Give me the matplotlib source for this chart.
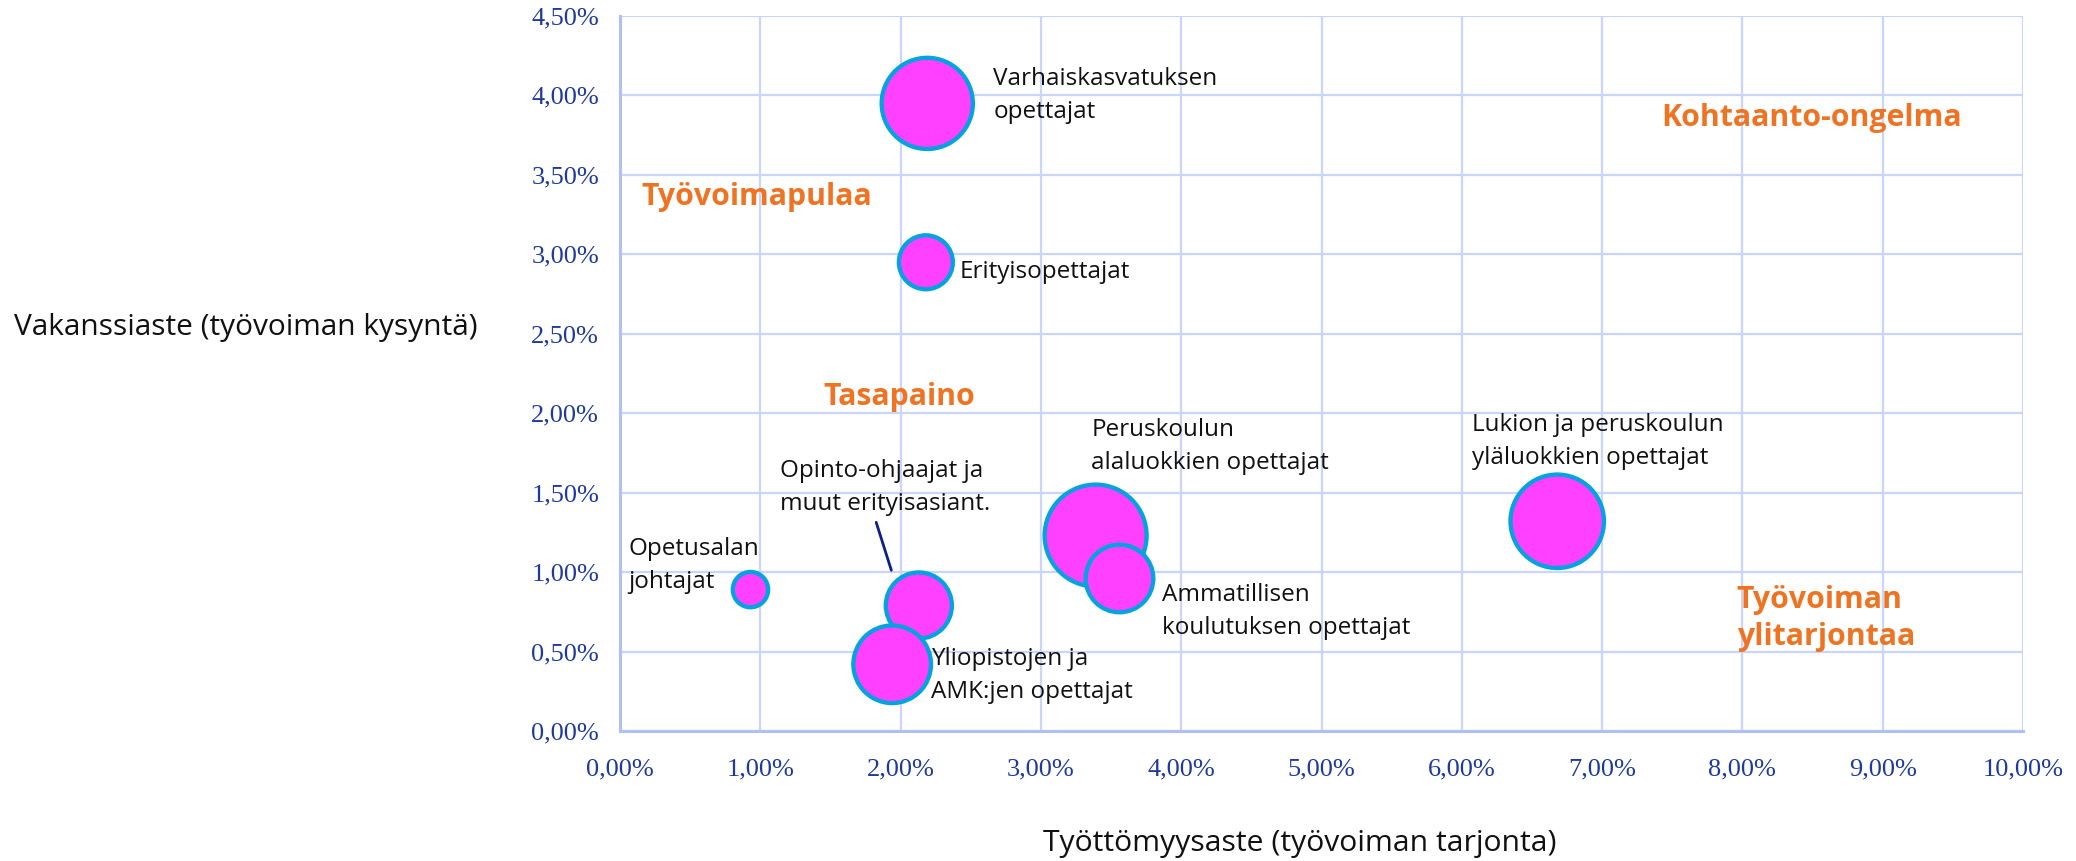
import numpy as np
import matplotlib
matplotlib.use('Agg')
import matplotlib.pyplot as plt
from matplotlib.ticker import FuncFormatter, MultipleLocator

# Ammattiryhmät: työttömyysaste (%), vakanssiaste (%), kuplan koko (suhteellinen)
ammatit = ['Varhaiskasvatuksen\nopettajat', 'Erityisopettajat', 'Opetusalan\njohtajat',
           'Opinto-ohjaajat ja\nmuut erityisasiant.', 'Yliopistojen ja\nAMK:jen opettajat',
           'Peruskoulun\nalaluokkien opettajat', 'Ammatillisen\nkoulutuksen opettajat',
           'Lukion ja peruskoulun\nyläluokkien opettajat']
tyottomyys = [2.19, 2.18, 0.93, 2.13, 1.94, 3.39, 3.56, 6.68]
vakanssi = [3.95, 2.95, 0.89, 0.79, 0.42, 1.23, 0.96, 1.32]
koko = [80, 28, 12, 42, 58, 100, 44, 84]

# nelikenttien otsikot
alueet = ['Työvoimapulaa', 'Tasapaino', 'Kohtaanto-ongelma', 'Työvoiman\nylitarjontaa']

W, H = 2076, 861
fig = plt.figure(figsize=(W / 100, H / 100), dpi=100)
ax = fig.add_axes([620 / W, 1 - 731 / H, (2023 - 620) / W, (731 - 16) / H])

grid_c = '#C9D5FB'
ax.set_xlim(0, 10)
ax.set_ylim(0, 4.5)
ax.xaxis.set_major_locator(MultipleLocator(1))
ax.yaxis.set_major_locator(MultipleLocator(0.5))
ax.grid(True, color=grid_c, lw=1.6, zorder=0)
ax.set_axisbelow(True)
for s in ['top', 'right']:
    ax.spines[s].set_visible(False)
for s in ['left', 'bottom']:
    ax.spines[s].set_color('#AFC0F7')
    ax.spines[s].set_linewidth(2.2)
ax.tick_params(length=0, labelsize=19, labelcolor='#1F3A9A')
ax.tick_params(axis='y', pad=15)
ax.tick_params(axis='x', pad=20)
fmt = FuncFormatter(lambda v, p: ('%.2f' % v).replace('.', ',') + '%')
ax.xaxis.set_major_formatter(fmt)
ax.yaxis.set_major_formatter(fmt)
for lab in ax.get_xticklabels() + ax.get_yticklabels():
    lab.set_family('Liberation Serif')

ax.scatter(tyottomyys, vakanssi, s=np.array(koko) * 53.9, c='#FF40FF',
           edgecolors='#04A2DE', linewidths=3.1, zorder=3)

# nimien paikat (vasen reuna, keskikohta)
nimi_pos = [(2.66, 4.00), (2.42, 2.89), (0.06, 1.04), (1.14, 1.53),
            (2.22, 0.35), (3.36, 1.79), (3.86, 0.755), (6.07, 1.82)]
for nimi, (x, y) in zip(ammatit, nimi_pos):
    ax.text(x, y, nimi, fontsize=17.5, family='Open Sans', color='#111111',
            ha='left', va='center', linespacing=1.5, zorder=4)

ax.annotate('', xy=(1.94, 0.995), xytext=(1.82, 1.33),
            arrowprops=dict(arrowstyle='-', color='#0D1E8A', lw=2), zorder=4)

alue_pos = [(0.15, 3.36), (1.45, 2.10), (7.42, 3.86), (7.96, 0.71)]
for a, (x, y) in zip(alueet, alue_pos):
    ax.text(x, y, a, fontsize=21.8, family='Open Sans', fontweight='bold',
            color='#EE7424', ha='left', va='center', linespacing=1.3, zorder=4)

fig.text(14 / W, 1 - 327 / H, 'Vakanssiaste (työvoiman kysyntä)', fontsize=21.5,
         family='Open Sans', ha='left', va='center', color='#111111')
fig.text(1300 / W, 1 - 843 / H, 'Työttömyysaste (työvoiman tarjonta)', fontsize=21.7,
         family='Open Sans', ha='center', va='center', color='#111111')

fig.savefig('out.png', dpi=100, facecolor='white')
